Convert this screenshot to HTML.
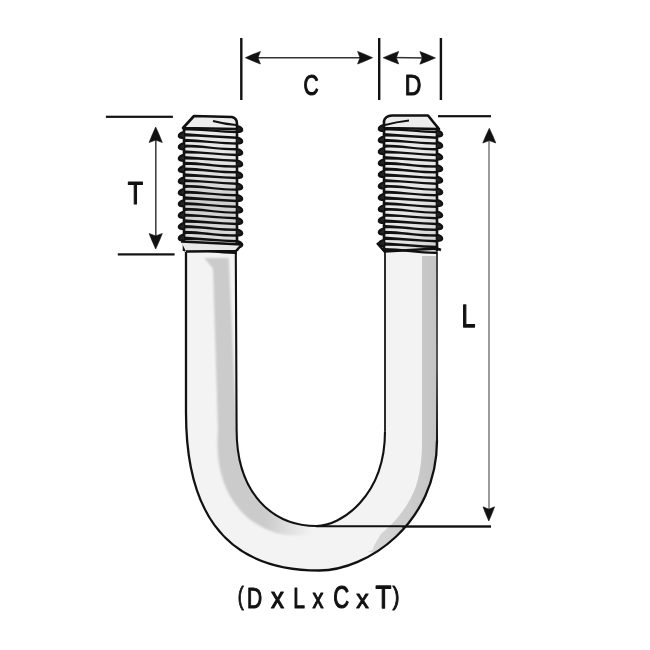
<!DOCTYPE html>
<html><head><meta charset="utf-8"><title>U-Bolt dimensions</title>
<style>html,body{margin:0;padding:0;background:#fff;}svg{display:block;will-change:transform;}</style></head>
<body><svg width="650" height="650" viewBox="0 0 650 650">
<rect width="650" height="650" fill="#fff"/>
<defs><filter id="bl" x="-20%" y="-20%" width="140%" height="140%"><feGaussianBlur stdDeviation="1.1"/></filter><filter id="bl3" x="-20%" y="-20%" width="140%" height="140%"><feGaussianBlur stdDeviation="0.8"/></filter><filter id="bl2" x="-20%" y="-20%" width="140%" height="140%"><feGaussianBlur stdDeviation="0.6"/></filter><linearGradient id="gL" gradientUnits="userSpaceOnUse" x1="245" y1="0" x2="312" y2="0"><stop offset="0" stop-color="#cbcbcb"/><stop offset="0.3" stop-color="#cbcbcb"/><stop offset="1" stop-color="#cbcbcb" stop-opacity="0"/></linearGradient><linearGradient id="gR" x1="0" y1="0" x2="1" y2="0"><stop offset="0" stop-color="#d8d8d8"/><stop offset="1" stop-color="#c4c4c4"/></linearGradient></defs>
<path d="M186 252 L186 412.7 C186 502.1 217.4 570.5 319.2 570.5 C366.7 570.5 437 523.8 437 440.4 L437 252 Z M235.8 252 L236.6 430 C236.6 492.9 272.1 526 316.3 526 C340.4 526 385 497 385 431.3 L385 252 Z" fill="#f3f3f3" fill-rule="evenodd"/>
<path d="M204.2 258 L228.8 258 L236.6 430 L236.67 434.78 L236.88 439.44 L237.22 443.98 L237.69 448.41 L238.29 452.72 L239.02 456.9 L239.88 460.97 L240.85 464.92 L241.94 468.74 L243.15 472.45 L244.47 476.04 L245.9 479.5 L247.44 482.84 L249.08 486.07 L250.83 489.16 L252.67 492.14 L254.62 494.99 L256.65 497.72 L258.78 500.33 L260.99 502.81 L263.29 505.17 L265.68 507.41 L268.14 509.51 L270.69 511.5 L273.3 513.36 L275.99 515.09 L278.75 516.69 L281.58 518.17 L284.47 519.53 L287.42 520.75 L290.43 521.85 L293.5 522.82 L296.62 523.66 L299.79 524.37 L303 524.96 L306.27 525.41 L309.57 525.74 L312.92 525.93 L316.3 526 L316.3 532.6 L312.62 533.54 L308.9 534.3 L305.14 534.89 L301.35 535.29 L297.53 535.49 L293.69 535.5 L289.84 535.3 L285.99 534.9 L282.15 534.28 L278.33 533.45 L274.54 532.39 L270.79 531.11 L267.1 529.6 L263.49 527.86 L259.98 525.88 L256.47 523.8 L252.94 521.63 L249.61 519.13 L246.43 516.4 L243.36 513.49 L240.42 510.39 L237.62 507.1 L234.97 503.64 L232.48 500.01 L230.17 496.21 L228.05 492.25 L226.11 488.14 L224.36 483.89 L222.82 479.5 L221.47 475 L220.33 470.37 L219.38 465.64 L218.63 460.81 L218.08 455.89 L217.71 450.87 L217.52 445.78 L217.52 440.6 L217.68 435.34 L218 430 L213 268.5 Z" fill="url(#gL)" filter="url(#bl3)"/>
<path d="M422 256 L437 256 L437 440.4 L437 440.4 L436.96 443.65 L436.86 446.86 L436.68 450.03 L436.44 453.17 L436.13 456.27 L435.75 459.33 L435.31 462.35 L434.8 465.33 L434.24 468.27 L433.61 471.18 L432.92 474.04 L432.18 476.87 L431.38 479.66 L430.52 482.41 L429.6 485.12 L428.64 487.79 L427.62 490.42 L426.55 493.01 L425.43 495.56 L424.27 498.07 L423.05 500.54 L421.8 502.97 L420.49 505.36 L419.14 507.7 L417.75 510.01 L416.32 512.28 L414.85 514.5 L413.35 516.69 L411.8 518.83 L410.22 520.93 L408.6 522.99 L406.96 525.01 L405.27 526.99 L403.56 528.92 L401.82 530.81 L400.05 532.66 L398.25 534.47 L396.43 536.24 L394.58 537.96 L392.71 539.64 L390.82 541.28 L388.9 542.87 L386.97 544.42 L385.02 545.93 L383.05 547.39 L381.06 548.81 L379.06 550.19 L377.05 551.52 L375.02 552.81 L368 552 L372.9 549.42 L373.74 546.43 L374.94 544.08 L376.2 541.88 L377.47 539.74 L378.74 537.64 L380.01 535.57 L381.31 533.58 L383.05 532.12 L384.78 530.63 L386.48 529.1 L388.16 527.54 L389.82 525.93 L391.46 524.28 L393.07 522.6 L394.65 520.88 L396.21 519.12 L397.74 517.33 L399.24 515.49 L400.7 513.62 L402.14 511.71 L403.54 509.77 L404.91 507.79 L406.24 505.77 L407.54 503.71 L408.8 501.62 L410.02 499.49 L411.19 497.32 L412.29 495.1 L413.32 492.83 L414.28 490.52 L415.18 488.17 L416.01 485.78 L416.78 483.35 L417.49 480.89 L418.14 478.39 L418.73 475.87 L419.26 473.31 L419.74 470.73 L420.16 468.12 L420.54 465.48 L420.87 462.81 L421.15 460.12 L421.39 457.39 L421.58 454.64 L421.74 451.86 L421.85 449.05 L421.94 446.2 L421.98 443.32 L422 440.4 L422 440 Z" fill="url(#gR)" filter="url(#bl2)"/>
<path d="M186 252 L186 412.7 C186 502.1 217.4 570.5 319.2 570.5 C366.7 570.5 437 523.8 437 440.4" fill="none" stroke="#111" stroke-width="2.3"/>
<path d="M235.8 252 L236.6 430 C236.6 492.9 272.1 526 316.3 526 C340.4 526 385 497 385 431.3" fill="none" stroke="#111" stroke-width="2.1"/>
<path d="M385 252 L385 431.3" fill="none" stroke="#222" stroke-width="1.9"/>
<defs><linearGradient id="eR" gradientUnits="userSpaceOnUse" x1="0" y1="252" x2="0" y2="445"><stop offset="0" stop-color="#444"/><stop offset="0.6" stop-color="#555"/><stop offset="1" stop-color="#111"/></linearGradient></defs>
<path d="M437 252 L437 441" fill="none" stroke="url(#eR)" stroke-width="2" stroke-linecap="round"/>
<defs><linearGradient id="tL" x1="0" y1="0" x2="0" y2="1"><stop offset="0" stop-color="#ececec"/><stop offset="0.35" stop-color="#e2e2e2"/><stop offset="0.6" stop-color="#cfcfcf"/><stop offset="1" stop-color="#dedede"/></linearGradient><linearGradient id="tR" x1="0" y1="0" x2="1" y2="1"><stop offset="0" stop-color="#ececec"/><stop offset="0.6" stop-color="#e6e6e6"/><stop offset="1" stop-color="#d2d2d2"/></linearGradient></defs>
<rect x="184" y="127" width="53" height="124" fill="url(#tL)"/>
<path d="M184 127.35 C202 128.05 219 131.05 237 130.7 L237 133.3 C219 132.95 202 129.95 184 130.65 Z" fill="#111"/>
<path d="M184 133.1 C202 134.59 219 136.01 237 136.45 L237 139.05 C219 137.91 202 136.49 184 136.4 Z" fill="#111"/>
<path d="M184 138.85 C202 139.35 219 142.75 237 142.2 L237 144.8 C219 144.65 202 141.25 184 142.15 Z" fill="#111"/>
<path d="M184 144.6 C202 144.56 219 149.04 237 147.95 L237 150.55 C219 150.94 202 146.46 184 147.9 Z" fill="#111"/>
<path d="M184 150.35 C202 151.45 219 153.65 237 153.7 L237 156.3 C219 155.55 202 153.35 184 153.65 Z" fill="#111"/>
<path d="M184 156.1 C202 157.44 219 159.16 237 159.45 L237 162.05 C219 161.06 202 159.34 184 159.4 Z" fill="#111"/>
<path d="M184 161.85 C202 161.99 219 166.11 237 165.2 L237 167.8 C219 168.01 202 163.89 184 165.15 Z" fill="#111"/>
<path d="M184 167.6 C202 167.81 219 171.79 237 170.95 L237 173.55 C219 173.69 202 169.71 184 170.9 Z" fill="#111"/>
<path d="M184 173.35 C202 174.74 219 176.36 237 176.7 L237 179.3 C219 178.26 202 176.64 184 176.65 Z" fill="#111"/>
<path d="M184 179.1 C202 180.12 219 182.48 237 182.45 L237 185.05 C219 184.38 202 182.02 184 182.4 Z" fill="#111"/>
<path d="M184 184.85 C202 184.78 219 189.32 237 188.2 L237 190.8 C219 191.22 202 186.68 184 188.15 Z" fill="#111"/>
<path d="M184 190.6 C202 191.18 219 194.42 237 193.95 L237 196.55 C219 196.32 202 193.08 184 193.9 Z" fill="#111"/>
<path d="M184 196.35 C202 197.85 219 199.25 237 199.7 L237 202.3 C219 201.15 202 199.75 184 199.65 Z" fill="#111"/>
<path d="M184 202.1 C202 202.71 219 205.89 237 205.45 L237 208.05 C219 207.79 202 204.61 184 205.4 Z" fill="#111"/>
<path d="M184 207.85 C202 207.77 219 212.33 237 211.2 L237 213.8 C219 214.23 202 209.67 184 211.15 Z" fill="#111"/>
<path d="M184 213.6 C202 214.59 219 217.01 237 216.95 L237 219.55 C219 218.91 202 216.49 184 216.9 Z" fill="#111"/>
<path d="M184 219.35 C202 220.75 219 222.35 237 222.7 L237 225.3 C219 224.25 202 222.65 184 222.65 Z" fill="#111"/>
<path d="M184 225.1 C202 225.33 219 229.27 237 228.45 L237 231.05 C219 231.17 202 227.23 184 228.4 Z" fill="#111"/>
<path d="M184 230.85 C202 230.97 219 235.13 237 234.2 L237 236.8 C219 237.03 202 232.87 184 234.15 Z" fill="#111"/>
<path d="M184 236.6 C202 237.92 219 239.68 237 239.95 L237 242.55 C219 241.58 202 239.82 184 239.9 Z" fill="#111"/>
<path d="M184 242.35 C202 243.47 219 245.63 237 245.7 L237 248.3 C219 247.53 202 245.37 184 245.65 Z" fill="#111"/>
<path d="M184 248.1 C202 248.07 219 252.53 237 251.45 L237 254.05 C219 254.43 202 249.97 184 251.4 Z" fill="#111"/>
<path d="M184 128 L184 251" stroke="#111" stroke-width="2.6"/>
<path d="M237 126 L237 251" stroke="#111" stroke-width="2.6"/>
<path d="M184 132 C181.5 132.2 178.5 134 178.8 136 C179 137.6 182 138 184 138" fill="#222" stroke="#111" stroke-width="2.2" stroke-linejoin="round" stroke-linecap="round"/>
<path d="M184 143.4 C181.5 143.6 178.5 145.4 178.8 147.4 C179 149 182 149.4 184 149.4" fill="#222" stroke="#111" stroke-width="2.2" stroke-linejoin="round" stroke-linecap="round"/>
<path d="M184 154.8 C181.5 155 178.5 156.8 178.8 158.8 C179 160.4 182 160.8 184 160.8" fill="#222" stroke="#111" stroke-width="2.2" stroke-linejoin="round" stroke-linecap="round"/>
<path d="M184 166.2 C181.5 166.4 178.5 168.2 178.8 170.2 C179 171.8 182 172.2 184 172.2" fill="#222" stroke="#111" stroke-width="2.2" stroke-linejoin="round" stroke-linecap="round"/>
<path d="M184 177.6 C181.5 177.8 178.5 179.6 178.8 181.6 C179 183.2 182 183.6 184 183.6" fill="#222" stroke="#111" stroke-width="2.2" stroke-linejoin="round" stroke-linecap="round"/>
<path d="M184 189 C181.5 189.2 178.5 191 178.8 193 C179 194.6 182 195 184 195" fill="#222" stroke="#111" stroke-width="2.2" stroke-linejoin="round" stroke-linecap="round"/>
<path d="M184 200.4 C181.5 200.6 178.5 202.4 178.8 204.4 C179 206 182 206.4 184 206.4" fill="#222" stroke="#111" stroke-width="2.2" stroke-linejoin="round" stroke-linecap="round"/>
<path d="M184 211.8 C181.5 212 178.5 213.8 178.8 215.8 C179 217.4 182 217.8 184 217.8" fill="#222" stroke="#111" stroke-width="2.2" stroke-linejoin="round" stroke-linecap="round"/>
<path d="M184 223.2 C181.5 223.4 178.5 225.2 178.8 227.2 C179 228.8 182 229.2 184 229.2" fill="#222" stroke="#111" stroke-width="2.2" stroke-linejoin="round" stroke-linecap="round"/>
<path d="M184 234.6 C181.5 234.8 178.5 236.6 178.8 238.6 C179 240.2 182 240.6 184 240.6" fill="#222" stroke="#111" stroke-width="2.2" stroke-linejoin="round" stroke-linecap="round"/>
<path d="M237 126 C239.5 126.2 242.5 128 242.2 130 C242 131.6 239 132 237 132" fill="#222" stroke="#111" stroke-width="2.2" stroke-linejoin="round" stroke-linecap="round"/>
<path d="M237 137.5 C239.5 137.7 242.5 139.5 242.2 141.5 C242 143.1 239 143.5 237 143.5" fill="#222" stroke="#111" stroke-width="2.2" stroke-linejoin="round" stroke-linecap="round"/>
<path d="M237 149 C239.5 149.2 242.5 151 242.2 153 C242 154.6 239 155 237 155" fill="#222" stroke="#111" stroke-width="2.2" stroke-linejoin="round" stroke-linecap="round"/>
<path d="M237 160.5 C239.5 160.7 242.5 162.5 242.2 164.5 C242 166.1 239 166.5 237 166.5" fill="#222" stroke="#111" stroke-width="2.2" stroke-linejoin="round" stroke-linecap="round"/>
<path d="M237 172 C239.5 172.2 242.5 174 242.2 176 C242 177.6 239 178 237 178" fill="#222" stroke="#111" stroke-width="2.2" stroke-linejoin="round" stroke-linecap="round"/>
<path d="M237 183.5 C239.5 183.7 242.5 185.5 242.2 187.5 C242 189.1 239 189.5 237 189.5" fill="#222" stroke="#111" stroke-width="2.2" stroke-linejoin="round" stroke-linecap="round"/>
<path d="M237 195 C239.5 195.2 242.5 197 242.2 199 C242 200.6 239 201 237 201" fill="#222" stroke="#111" stroke-width="2.2" stroke-linejoin="round" stroke-linecap="round"/>
<path d="M237 206.5 C239.5 206.7 242.5 208.5 242.2 210.5 C242 212.1 239 212.5 237 212.5" fill="#222" stroke="#111" stroke-width="2.2" stroke-linejoin="round" stroke-linecap="round"/>
<path d="M237 218 C239.5 218.2 242.5 220 242.2 222 C242 223.6 239 224 237 224" fill="#222" stroke="#111" stroke-width="2.2" stroke-linejoin="round" stroke-linecap="round"/>
<path d="M237 229.5 C239.5 229.7 242.5 231.5 242.2 233.5 C242 235.1 239 235.5 237 235.5" fill="#222" stroke="#111" stroke-width="2.2" stroke-linejoin="round" stroke-linecap="round"/>
<path d="M237 241 C239.5 241.2 242.5 243 242.2 245 C242 246.6 239 247 237 247" fill="#222" stroke="#111" stroke-width="2.2" stroke-linejoin="round" stroke-linecap="round"/>
<path d="M183 128 L194 116 L232 117 Q237 118 237 124 L237 129 Z" fill="#ededed" stroke="#111" stroke-width="2.6" stroke-linejoin="round"/><path d="M213 121 Q224 124 236 125" fill="none" stroke="#111" stroke-width="2"/>
<rect x="384" y="127" width="53" height="124" fill="url(#tR)"/>
<path d="M384 127.35 C402 128.05 419 131.05 437 130.7 L437 133.3 C419 132.95 402 129.95 384 130.65 Z" fill="#111"/>
<path d="M384 133.1 C402 134.59 419 136.01 437 136.45 L437 139.05 C419 137.91 402 136.49 384 136.4 Z" fill="#111"/>
<path d="M384 138.85 C402 139.35 419 142.75 437 142.2 L437 144.8 C419 144.65 402 141.25 384 142.15 Z" fill="#111"/>
<path d="M384 144.6 C402 144.56 419 149.04 437 147.95 L437 150.55 C419 150.94 402 146.46 384 147.9 Z" fill="#111"/>
<path d="M384 150.35 C402 151.45 419 153.65 437 153.7 L437 156.3 C419 155.55 402 153.35 384 153.65 Z" fill="#111"/>
<path d="M384 156.1 C402 157.44 419 159.16 437 159.45 L437 162.05 C419 161.06 402 159.34 384 159.4 Z" fill="#111"/>
<path d="M384 161.85 C402 161.99 419 166.11 437 165.2 L437 167.8 C419 168.01 402 163.89 384 165.15 Z" fill="#111"/>
<path d="M384 167.6 C402 167.81 419 171.79 437 170.95 L437 173.55 C419 173.69 402 169.71 384 170.9 Z" fill="#111"/>
<path d="M384 173.35 C402 174.74 419 176.36 437 176.7 L437 179.3 C419 178.26 402 176.64 384 176.65 Z" fill="#111"/>
<path d="M384 179.1 C402 180.12 419 182.48 437 182.45 L437 185.05 C419 184.38 402 182.02 384 182.4 Z" fill="#111"/>
<path d="M384 184.85 C402 184.78 419 189.32 437 188.2 L437 190.8 C419 191.22 402 186.68 384 188.15 Z" fill="#111"/>
<path d="M384 190.6 C402 191.18 419 194.42 437 193.95 L437 196.55 C419 196.32 402 193.08 384 193.9 Z" fill="#111"/>
<path d="M384 196.35 C402 197.85 419 199.25 437 199.7 L437 202.3 C419 201.15 402 199.75 384 199.65 Z" fill="#111"/>
<path d="M384 202.1 C402 202.71 419 205.89 437 205.45 L437 208.05 C419 207.79 402 204.61 384 205.4 Z" fill="#111"/>
<path d="M384 207.85 C402 207.77 419 212.33 437 211.2 L437 213.8 C419 214.23 402 209.67 384 211.15 Z" fill="#111"/>
<path d="M384 213.6 C402 214.59 419 217.01 437 216.95 L437 219.55 C419 218.91 402 216.49 384 216.9 Z" fill="#111"/>
<path d="M384 219.35 C402 220.75 419 222.35 437 222.7 L437 225.3 C419 224.25 402 222.65 384 222.65 Z" fill="#111"/>
<path d="M384 225.1 C402 225.33 419 229.27 437 228.45 L437 231.05 C419 231.17 402 227.23 384 228.4 Z" fill="#111"/>
<path d="M384 230.85 C402 230.97 419 235.13 437 234.2 L437 236.8 C419 237.03 402 232.87 384 234.15 Z" fill="#111"/>
<path d="M384 236.6 C402 237.92 419 239.68 437 239.95 L437 242.55 C419 241.58 402 239.82 384 239.9 Z" fill="#111"/>
<path d="M384 242.35 C402 243.47 419 245.63 437 245.7 L437 248.3 C419 247.53 402 245.37 384 245.65 Z" fill="#111"/>
<path d="M384 248.1 C402 248.07 419 252.53 437 251.45 L437 254.05 C419 254.43 402 249.97 384 251.4 Z" fill="#111"/>
<path d="M384 128 L384 251" stroke="#111" stroke-width="2.6"/>
<path d="M437 126 L437 251" stroke="#111" stroke-width="2.6"/>
<path d="M384 125 C381.5 125.2 378.5 127 378.8 129 C379 130.6 382 131 384 131" fill="#222" stroke="#111" stroke-width="2.2" stroke-linejoin="round" stroke-linecap="round"/>
<path d="M384 136.5 C381.5 136.7 378.5 138.5 378.8 140.5 C379 142.1 382 142.5 384 142.5" fill="#222" stroke="#111" stroke-width="2.2" stroke-linejoin="round" stroke-linecap="round"/>
<path d="M384 148 C381.5 148.2 378.5 150 378.8 152 C379 153.6 382 154 384 154" fill="#222" stroke="#111" stroke-width="2.2" stroke-linejoin="round" stroke-linecap="round"/>
<path d="M384 159.5 C381.5 159.7 378.5 161.5 378.8 163.5 C379 165.1 382 165.5 384 165.5" fill="#222" stroke="#111" stroke-width="2.2" stroke-linejoin="round" stroke-linecap="round"/>
<path d="M384 171 C381.5 171.2 378.5 173 378.8 175 C379 176.6 382 177 384 177" fill="#222" stroke="#111" stroke-width="2.2" stroke-linejoin="round" stroke-linecap="round"/>
<path d="M384 182.5 C381.5 182.7 378.5 184.5 378.8 186.5 C379 188.1 382 188.5 384 188.5" fill="#222" stroke="#111" stroke-width="2.2" stroke-linejoin="round" stroke-linecap="round"/>
<path d="M384 194 C381.5 194.2 378.5 196 378.8 198 C379 199.6 382 200 384 200" fill="#222" stroke="#111" stroke-width="2.2" stroke-linejoin="round" stroke-linecap="round"/>
<path d="M384 205.5 C381.5 205.7 378.5 207.5 378.8 209.5 C379 211.1 382 211.5 384 211.5" fill="#222" stroke="#111" stroke-width="2.2" stroke-linejoin="round" stroke-linecap="round"/>
<path d="M384 217 C381.5 217.2 378.5 219 378.8 221 C379 222.6 382 223 384 223" fill="#222" stroke="#111" stroke-width="2.2" stroke-linejoin="round" stroke-linecap="round"/>
<path d="M384 228.5 C381.5 228.7 378.5 230.5 378.8 232.5 C379 234.1 382 234.5 384 234.5" fill="#222" stroke="#111" stroke-width="2.2" stroke-linejoin="round" stroke-linecap="round"/>
<path d="M384 240 C381.5 240.2 378.5 242 378.8 244 C379 245.6 382 246 384 246" fill="#222" stroke="#111" stroke-width="2.2" stroke-linejoin="round" stroke-linecap="round"/>
<path d="M437 130.5 C439.5 130.7 442.5 132.5 442.2 134.5 C442 136.1 439 136.5 437 136.5" fill="#222" stroke="#111" stroke-width="2.2" stroke-linejoin="round" stroke-linecap="round"/>
<path d="M437 142.1 C439.5 142.3 442.5 144.1 442.2 146.1 C442 147.7 439 148.1 437 148.1" fill="#222" stroke="#111" stroke-width="2.2" stroke-linejoin="round" stroke-linecap="round"/>
<path d="M437 153.7 C439.5 153.9 442.5 155.7 442.2 157.7 C442 159.3 439 159.7 437 159.7" fill="#222" stroke="#111" stroke-width="2.2" stroke-linejoin="round" stroke-linecap="round"/>
<path d="M437 165.3 C439.5 165.5 442.5 167.3 442.2 169.3 C442 170.9 439 171.3 437 171.3" fill="#222" stroke="#111" stroke-width="2.2" stroke-linejoin="round" stroke-linecap="round"/>
<path d="M437 176.9 C439.5 177.1 442.5 178.9 442.2 180.9 C442 182.5 439 182.9 437 182.9" fill="#222" stroke="#111" stroke-width="2.2" stroke-linejoin="round" stroke-linecap="round"/>
<path d="M437 188.5 C439.5 188.7 442.5 190.5 442.2 192.5 C442 194.1 439 194.5 437 194.5" fill="#222" stroke="#111" stroke-width="2.2" stroke-linejoin="round" stroke-linecap="round"/>
<path d="M437 200.1 C439.5 200.3 442.5 202.1 442.2 204.1 C442 205.7 439 206.1 437 206.1" fill="#222" stroke="#111" stroke-width="2.2" stroke-linejoin="round" stroke-linecap="round"/>
<path d="M437 211.7 C439.5 211.9 442.5 213.7 442.2 215.7 C442 217.3 439 217.7 437 217.7" fill="#222" stroke="#111" stroke-width="2.2" stroke-linejoin="round" stroke-linecap="round"/>
<path d="M437 223.3 C439.5 223.5 442.5 225.3 442.2 227.3 C442 228.9 439 229.3 437 229.3" fill="#222" stroke="#111" stroke-width="2.2" stroke-linejoin="round" stroke-linecap="round"/>
<path d="M437 234.9 C439.5 235.1 442.5 236.9 442.2 238.9 C442 240.5 439 240.9 437 240.9" fill="#222" stroke="#111" stroke-width="2.2" stroke-linejoin="round" stroke-linecap="round"/>
<path d="M384 128 L384 121 Q385 116 392 115.5 L428 115.5 L439 129 Z" fill="#ededed" stroke="#111" stroke-width="2.6" stroke-linejoin="round"/><path d="M385 125 Q396 122 409 120.5" fill="none" stroke="#111" stroke-width="2"/>
<path d="M181 241.5 Q210 243 242 244.5 L236 251 L186 251.5" fill="#e8e8e8" stroke="#111" stroke-width="2.5" stroke-linejoin="round"/>
<path d="M377 243 L384.5 251.5 L437 248.5 L441 250" fill="none" stroke="#111" stroke-width="2.5" stroke-linejoin="round"/>
<rect x="240.1" y="38" width="2.4" height="62" fill="#111"/>
<rect x="378" y="38" width="2.4" height="62" fill="#111"/>
<rect x="439.7" y="38" width="2.4" height="62" fill="#111"/>
<path d="M250 57.7 L365 57.7" stroke="#333" stroke-width="1.5"/>
<path d="M245.4 57.7 Q253.65 61.48 260.4 64 L258 57.7 L260.4 51.4 Q253.65 53.92 245.4 57.7 Z" fill="#111" stroke="#111" stroke-width="0.6" stroke-linejoin="round"/>
<path d="M372.6 57.7 Q364.35 53.92 357.6 51.4 L360 57.7 L357.6 64 Q364.35 61.48 372.6 57.7 Z" fill="#111" stroke="#111" stroke-width="0.6" stroke-linejoin="round"/>
<path d="M390 57.6 L428 58" stroke="#333" stroke-width="1.5"/>
<path d="M383.2 57.7 Q391.72 61.48 398.7 64 L396.3 57.7 L398.7 51.4 Q391.72 53.92 383.2 57.7 Z" fill="#111" stroke="#111" stroke-width="0.6" stroke-linejoin="round"/>
<path d="M435.4 57.9 Q426.88 54.12 419.9 51.6 L422.3 57.9 L419.9 64.2 Q426.88 61.68 435.4 57.9 Z" fill="#111" stroke="#111" stroke-width="0.6" stroke-linejoin="round"/>
<rect x="105.9" y="115.7" width="67" height="2.2" fill="#111"/>
<rect x="117.8" y="253.3" width="56.8" height="2.2" fill="#111"/>
<path d="M155.8 135 L155.8 242" stroke="#444" stroke-width="1.6"/>
<path d="M155.7 127 Q151.74 135.53 149.1 142.5 L155.7 140.1 L162.3 142.5 Q159.66 135.53 155.7 127 Z" fill="#111" stroke="#111" stroke-width="0.6" stroke-linejoin="round"/>
<path d="M155.7 249 Q159.66 240.47 162.3 233.5 L155.7 235.9 L149.1 233.5 Q151.74 240.47 155.7 249 Z" fill="#111" stroke="#111" stroke-width="0.6" stroke-linejoin="round"/>
<rect x="438" y="115.1" width="53" height="2.2" fill="#111"/>
<rect x="402" y="525.3" width="89" height="2.4" fill="#111"/>
<path d="M316 526.3 L402 526.3" stroke="#111" stroke-width="2"/>
<path d="M489 138 L489 512" stroke="#8a8a8a" stroke-width="1.7"/>
<path d="M489.3 128.3 Q485.4 136.39 482.8 143 L489.3 140.6 L495.8 143 Q493.2 136.39 489.3 128.3 Z" fill="#111" stroke="#111" stroke-width="0.6" stroke-linejoin="round"/>
<path d="M488.8 521 Q492.28 513.19 494.6 506.8 L488.8 509.2 L483 506.8 Q485.32 513.19 488.8 521 Z" fill="#111" stroke="#111" stroke-width="0.6" stroke-linejoin="round"/>
<text x="0" y="0" font-family="Liberation Sans, sans-serif" font-size="100" fill="#111" stroke="#111" stroke-width="4" stroke-linejoin="round" transform="matrix(0.21 0 0 0.3 303.57 94.9)">C</text>
<text x="0" y="0" font-family="Liberation Sans, sans-serif" font-size="100" fill="#111" stroke="#111" stroke-width="4" stroke-linejoin="round" transform="matrix(0.23 0 0 0.3 404.75 95.21)">D</text>
<text x="0" y="0" font-family="Liberation Sans, sans-serif" font-size="100" fill="#111" stroke="#111" stroke-width="4" stroke-linejoin="round" transform="matrix(0.25 0 0 0.31 127.8 204.18)">T</text>
<text x="0" y="0" font-family="Liberation Sans, sans-serif" font-size="100" fill="#111" stroke="#111" stroke-width="4" stroke-linejoin="round" transform="matrix(0.25 0 0 0.32 461.5 327.37)">L</text>
<text x="0" y="0" font-family="Liberation Sans, sans-serif" font-size="100" fill="#111" stroke="#111" stroke-width="4" stroke-linejoin="round" transform="matrix(0.18 0 0 0.26 237.79 605.45)">(</text>
<text x="0" y="0" font-family="Liberation Sans, sans-serif" font-size="100" fill="#111" stroke="#111" stroke-width="4" stroke-linejoin="round" transform="matrix(0.21 0 0 0.3 246.93 607.9)">D</text>
<text x="0" y="0" font-family="Liberation Sans, sans-serif" font-size="100" fill="#111" stroke="#111" stroke-width="4" stroke-linejoin="round" transform="matrix(0.26 0 0 0.29 271.06 608.22)">x</text>
<text x="0" y="0" font-family="Liberation Sans, sans-serif" font-size="100" fill="#111" stroke="#111" stroke-width="4" stroke-linejoin="round" transform="matrix(0.21 0 0 0.29 293.35 607.91)">L</text>
<text x="0" y="0" font-family="Liberation Sans, sans-serif" font-size="100" fill="#111" stroke="#111" stroke-width="4" stroke-linejoin="round" transform="matrix(0.22 0 0 0.27 312.53 608.46)">x</text>
<text x="0" y="0" font-family="Liberation Sans, sans-serif" font-size="100" fill="#111" stroke="#111" stroke-width="4" stroke-linejoin="round" transform="matrix(0.22 0 0 0.31 333.14 608.27)">C</text>
<text x="0" y="0" font-family="Liberation Sans, sans-serif" font-size="100" fill="#111" stroke="#111" stroke-width="4" stroke-linejoin="round" transform="matrix(0.25 0 0 0.26 356.25 608.47)">x</text>
<text x="0" y="0" font-family="Liberation Sans, sans-serif" font-size="100" fill="#111" stroke="#111" stroke-width="4" stroke-linejoin="round" transform="matrix(0.26 0 0 0.32 375.4 608.37)">T</text>
<text x="0" y="0" font-family="Liberation Sans, sans-serif" font-size="100" fill="#111" stroke="#111" stroke-width="4" stroke-linejoin="round" transform="matrix(0.21 0 0 0.26 392.51 605.45)">)</text>
</svg></body></html>
